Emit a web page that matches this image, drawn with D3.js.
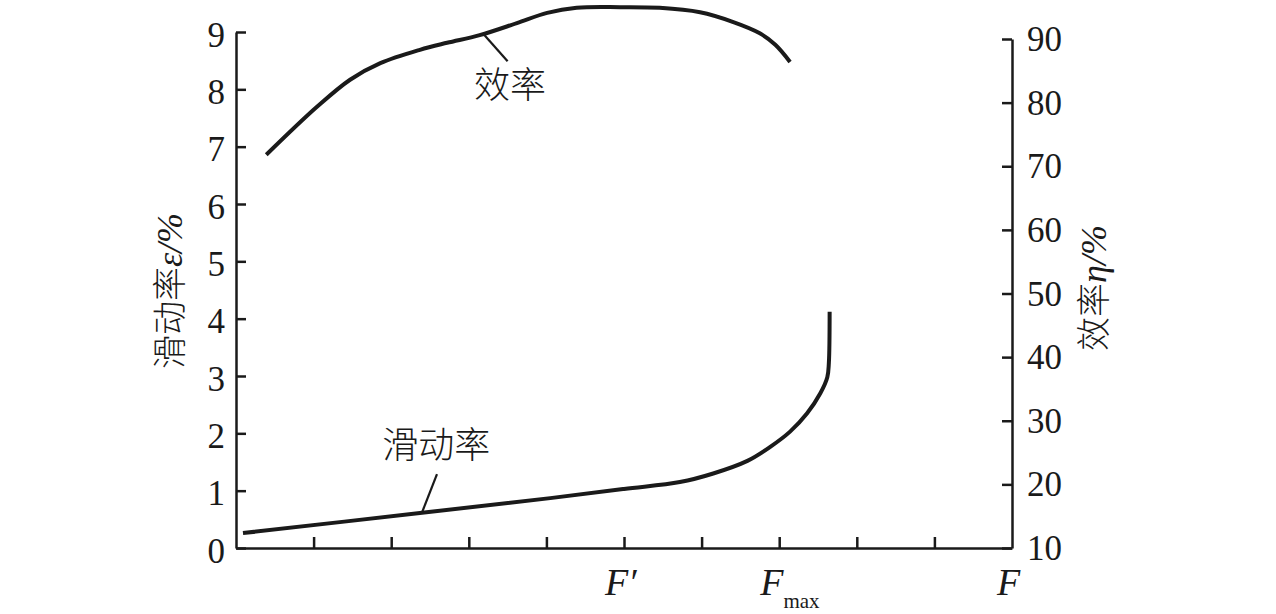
<!DOCTYPE html>
<html><head><meta charset="utf-8">
<script src="https://cdn.jsdelivr.net/npm/d3@7/dist/d3.min.js"></script>
<style>body{margin:0;background:#fff}svg{display:block}</style>
</head><body>
<svg id="c" width="1276" height="614"></svg>
<script>
// x domain: load F in tick units (0..10)
const xTicks = [0,1,2,3,4,5,6,7,8,9,10];
const leftTicks = [0,1,2,3,4,5,6,7,8,9];
const rightTicks = [10,20,30,40,50,60,70,80,90];
// efficiency curve (x, efficiency %)
const effX = [0.39,1.04,1.47,1.86,2.37,2.72,3.14,3.62,4.01,4.39,4.95,5.46,5.98,6.40,6.75,6.95,7.14];
const effY = [71.8,79.3,83.6,86.2,88.3,89.4,90.6,92.5,94.1,94.9,95.0,94.9,94.2,92.7,90.9,89.1,86.4];
// slip curve (x, slip %)
const slipX = [0.09,2.37,4.05,5.0,5.72,6.15,6.59,6.88,7.14,7.36,7.53,7.62,7.64,7.65];
const slipY = [0.26,0.61,0.87,1.03,1.15,1.30,1.52,1.76,2.03,2.35,2.70,2.98,3.23,4.12];
// x labels
const xLabels = [{v:5, t:"F", sup:"′", sub:""},{v:7, t:"F", sup:"", sub:"max"},{v:10, t:"F", sup:"", sub:""}];
// annotations
const effNote = {text:"效率", lx:3.53, ly:82.8, x1:3.18, y1:90.9, x2:3.50, y2:86.5};
const slipNote = {text:"滑动率", lx:2.58, ly:1.80, x1:2.40, y1:0.63, x2:2.59, y2:1.29};

const svg = d3.select("#c");
const ink = "#1a1a1a";
const serif = "'Liberation Serif','Times New Roman',serif";
const x = d3.scaleLinear().domain([0,10]).range([236,1012]);
const yL = d3.scaleLinear().domain([0,9]).range([548,32]);
const yR = d3.scaleLinear().domain([10,90]).range([548,39]);

function styleAxis(g){
  g.attr("font-family",null).attr("font-size",null);
  g.selectAll("path,line").attr("stroke",ink).attr("stroke-width",2.5);
  g.selectAll("text").attr("fill",ink).style("font-family",serif).style("font-size","35px");
}
svg.append("g").attr("transform","translate(236,0)")
  .call(d3.axisLeft(yL).tickValues(leftTicks).tickSize(-10).tickSizeOuter(0).tickPadding(11).tickFormat(d3.format("d")))
  .call(styleAxis).call(g=>g.selectAll("text").attr("dy","0.4em"));
svg.append("g").attr("transform","translate(1012,0)")
  .call(d3.axisRight(yR).tickValues(rightTicks).tickSize(-10).tickSizeOuter(0).tickPadding(15).tickFormat(d3.format("d")))
  .call(styleAxis).call(g=>g.selectAll("text").attr("dy","0.33em"));
svg.append("g").attr("transform","translate(0,548)")
  .call(d3.axisBottom(x).tickValues(xTicks.slice(1,10)).tickSize(-11).tickSizeOuter(0).tickFormat(""))
  .call(styleAxis);

const line = d3.line().curve(d3.curveCatmullRom.alpha(0.5));
svg.append("path").attr("d", line(effX.map((v,i)=>[x(v), yR(effY[i])])))
  .attr("fill","none").attr("stroke",ink).attr("stroke-width",4).attr("stroke-linecap","butt");
svg.append("path").attr("d", line(slipX.map((v,i)=>[x(v), yL(slipY[i])])))
  .attr("fill","none").attr("stroke",ink).attr("stroke-width",4).attr("stroke-linecap","butt");

// annotations
const cjk = "'Noto Sans CJK SC','Noto Sans CJK JP',sans-serif";
svg.append("line").attr("x1",x(effNote.x1)).attr("y1",yR(effNote.y1)).attr("x2",x(effNote.x2)).attr("y2",yR(effNote.y2)).attr("stroke",ink).attr("stroke-width",2.2);
svg.append("text").attr("x",x(effNote.lx)).attr("y",yR(effNote.ly)).attr("dy","0.36em").attr("text-anchor","middle")
  .attr("font-family",cjk).attr("font-size",36).attr("font-weight",300).attr("fill",ink).text(effNote.text);
svg.append("line").attr("x1",x(slipNote.x1)).attr("y1",yL(slipNote.y1)).attr("x2",x(slipNote.x2)).attr("y2",yL(slipNote.y2)).attr("stroke",ink).attr("stroke-width",2.2);
svg.append("text").attr("x",x(slipNote.lx)).attr("y",yL(slipNote.ly)).attr("dy","0.36em").attr("text-anchor","middle")
  .attr("font-family",cjk).attr("font-size",36).attr("font-weight",300).attr("fill",ink).text(slipNote.text);

// x labels
xLabels.forEach(d=>{
  const t = svg.append("text").attr("y",595).attr("fill",ink)
    .style("font-family",serif).attr("font-size",38);
  if (d.v===10){ t.attr("x",x(d.v)-15); }
  else { t.attr("x",x(d.v)-19); }
  t.append("tspan").attr("font-style","italic").text(d.t);
  if (d.sup) t.append("tspan").attr("font-style","italic").text(d.sup);
  if (d.sub) t.append("tspan").attr("font-size",21).attr("dy",13).text(d.sub);
});

// axis titles
function title(cx, cy, cn, sym){
  const t = svg.append("text").attr("transform",`translate(${cx},${cy}) rotate(-90)`)
    .attr("text-anchor","middle").attr("dy","0.36em").attr("fill",ink);
  t.append("tspan").attr("font-family",cjk).attr("font-weight",300).attr("font-size",34).text(cn);
  t.append("tspan").style("font-family",serif).attr("font-style","italic").attr("font-size",36).text(sym);
}
title(176, 291, "滑动率", "ε/%");
title(1100, 288, "效率", "η/%");
</script>
</body></html>
